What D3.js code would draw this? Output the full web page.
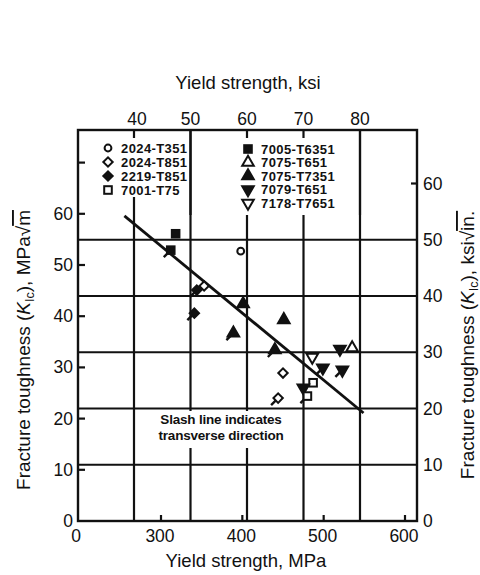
<!DOCTYPE html>
<html lang="en">
<head>
<meta charset="UTF-8"/>
<title>Fracture toughness vs yield strength</title>
<script src="https://d3js.org/d3.v7.min.js"></script>
<style>
  body { margin: 0; background: #fff; }
  svg text { font-family: "Liberation Sans", Arial, Helvetica, sans-serif; fill: #111; }
  .tick { font-size: 17.5px; }
  .title { font-size: 18.5px; }
  .ktitle { font-size: 19px; }
  .legend { font-size: 13px; font-weight: bold; letter-spacing: 0.4px; }
  .note { font-size: 13.5px; font-weight: bold; letter-spacing: -0.2px; }
</style>
</head>
<body>
<script>
// alloys and their symbols (legend order)
var alloys  = ["2024-T351", "2024-T851", "2219-T851", "7001-T75",
               "7005-T6351", "7075-T651", "7075-T7351", "7079-T651", "7178-T7651"];
var shapes  = ["circle", "diamond", "diamond", "square",
               "square", "triangle", "triangle", "tridown", "tridown"];
var filled  = [false, false, true, false, true, false, true, true, false];

// measured points: alloy, yield strength (MPa), K_Ic (MPa sqrt m), transverse?
var ptAlloy = ["7005-T6351", "7005-T6351", "2024-T351", "2024-T851", "2219-T851",
               "2219-T851", "7075-T7351", "7075-T7351", "7075-T7351", "7075-T7351",
               "7178-T7651", "7079-T651", "7075-T651", "7079-T651", "7079-T651",
               "2024-T851", "7001-T75", "7079-T651", "7001-T75", "2024-T851"];
var ptYield = [318, 312, 398, 353, 344, 341, 401, 389, 451, 440,
               486, 520, 535, 499, 523, 450, 487, 475, 480, 444];
var ptK     = [56.1, 52.9, 52.7, 45.9, 45.1, 40.6, 42.4, 36.7, 39.3, 33.4,
               32.0, 33.6, 33.8, 29.9, 29.5, 28.9, 27.0, 26.0, 24.4, 24.0];
var ptTrans = [false, true, false, false, true, true, false, true, false, true,
               false, false, false, true, true, false, false, false, true, true];

// trend line end points
var lineYield = [255, 549];
var lineK = [59.6, 21.1];

// tick labels
var mpaTicks = [300, 400, 500, 600];
var ksiTicks = [40, 50, 60, 70, 80];
var kMpaTicks = [10, 20, 30, 40, 50, 60, 70];
var kMpaLabels = [0, 10, 20, 30, 40, 50, 60];
var kKsiGrid = [10, 20, 30, 40, 50];
var kKsiLabels = [0, 10, 20, 30, 40, 50, 60];

var w = 480, h = 575;
var L = 78, R = 417, T = 130, B = 521;

var x = d3.scaleLinear().domain([300, 600]).range([161, 405]);
var xKsi = d3.scaleLinear().domain([40, 80]).range([134, 360]);
var y = d3.scaleLinear().domain([0, 70]).range([B, B - 70 * 5.12]);
var yKsi = d3.scaleLinear().domain([0, 50]).range([B, B - 50 * 5.625]);

var svg = d3.select("body").append("svg")
    .attr("width", w).attr("height", h);

var ink = "#111";

// grid
svg.selectAll(".hgrid").data(kKsiGrid).enter().append("line")
    .attr("x1", L).attr("x2", R)
    .attr("y1", function(d){ return yKsi(d); })
    .attr("y2", function(d){ return yKsi(d); })
    .attr("stroke", ink).attr("stroke-width", 2.2);

svg.selectAll(".vgrid").data(ksiTicks).enter().append("line")
    .attr("x1", function(d){ return xKsi(d); })
    .attr("x2", function(d){ return xKsi(d); })
    .attr("y1", T).attr("y2", B)
    .attr("stroke", ink).attr("stroke-width", 2.2);

// white boxes behind legend and note
svg.append("rect").attr("x", 100).attr("y", 138).attr("width", 88).attr("height", 59).attr("fill", "#fff");
svg.append("rect").attr("x", 198).attr("y", 138).attr("width", 158).attr("height", 77).attr("fill", "#fff");
svg.append("rect").attr("x", 150).attr("y", 411).attr("width", 142).attr("height", 37).attr("fill", "#fff");
// gridlines at 50 and 80 ksi run through the legend
svg.append("line").attr("x1", xKsi(50)).attr("x2", xKsi(50)).attr("y1", T).attr("y2", 215)
    .attr("stroke", ink).attr("stroke-width", 2.2);
svg.append("line").attr("x1", xKsi(80)).attr("x2", xKsi(80)).attr("y1", T).attr("y2", 215)
    .attr("stroke", ink).attr("stroke-width", 2.2);

// frame
svg.append("rect").attr("x", L).attr("y", T).attr("width", R - L).attr("height", B - T)
    .attr("fill", "none").attr("stroke", ink).attr("stroke-width", 2.4);

// ticks
svg.selectAll(".lt").data(kMpaTicks).enter().append("line")
    .attr("x1", L).attr("x2", L + 7)
    .attr("y1", function(d){ return y(d); }).attr("y2", function(d){ return y(d); })
    .attr("stroke", ink).attr("stroke-width", 2.2);
svg.selectAll(".bt").data(mpaTicks).enter().append("line")
    .attr("x1", function(d){ return x(d); }).attr("x2", function(d){ return x(d); })
    .attr("y1", B).attr("y2", B - 6)
    .attr("stroke", ink).attr("stroke-width", 2.2);
svg.append("line").attr("x1", R - 6).attr("x2", R)
    .attr("y1", yKsi(60)).attr("y2", yKsi(60))
    .attr("stroke", ink).attr("stroke-width", 2.2);

// tick labels
svg.selectAll(".ll").data(kMpaLabels).enter().append("text").attr("class", "tick")
    .attr("x", 73).attr("y", function(d){ return y(d) + 6; })
    .attr("text-anchor", "end").text(function(d){ return d; });
svg.selectAll(".rl").data(kKsiLabels).enter().append("text").attr("class", "tick")
    .attr("x", 423).attr("y", function(d){ return yKsi(d) + 6; })
    .text(function(d){ return d; });
svg.selectAll(".tl").data(ksiTicks).enter().append("text").attr("class", "tick")
    .attr("x", function(d){ return xKsi(d) + (d === 40 ? 3 : 0); }).attr("y", 125)
    .attr("text-anchor", "middle").text(function(d){ return d; });
svg.selectAll(".bl").data(mpaTicks).enter().append("text").attr("class", "tick")
    .attr("x", function(d){ return x(d) - 1; }).attr("y", 542)
    .attr("text-anchor", "middle").text(function(d){ return d; });
svg.append("text").attr("class", "tick").attr("x", 76).attr("y", 542)
    .attr("text-anchor", "middle").text("0");

// axis titles
svg.append("text").attr("class", "title").attr("x", 248).attr("y", 89)
    .attr("text-anchor", "middle").text("Yield strength, ksi");
svg.append("text").attr("class", "title").attr("x", 246).attr("y", 567)
    .attr("text-anchor", "middle").text("Yield strength, MPa");

function kTitle(cx, cy, unit, under) {
    var t = svg.append("text").attr("class", "ktitle")
        .attr("transform", "translate(" + cx + "," + cy + ") rotate(-90)")
        .attr("text-anchor", "middle");
    t.append("tspan").text("Fracture toughness (");
    t.append("tspan").attr("font-style", "italic").text("K");
    t.append("tspan").attr("font-size", "12.5px").attr("dy", 4).text("Ic");
    t.append("tspan").attr("dy", -4).text("), " + unit + "\u221A");
    t.append("tspan").attr("text-decoration", "overline").text(under);
}
kTitle(30, 350, "MPa", "m");
kTitle(474, 345, "ksi", "in.");

// note
svg.append("text").attr("class", "note").attr("x", 221).attr("y", 424)
    .attr("text-anchor", "middle").text("Slash line indicates");
svg.append("text").attr("class", "note").attr("x", 221).attr("y", 440)
    .attr("text-anchor", "middle").text("transverse direction");

// marker helper
function marker(g, shape, fill) {
    if (shape === "circle") {
        g.append("circle").attr("r", 3.4);
    } else if (shape === "square") {
        g.append("rect").attr("x", -3.8).attr("y", -3.8).attr("width", 7.6).attr("height", 7.6);
    } else if (shape === "diamond") {
        g.append("path").attr("d", d3.symbol().type(d3.symbolSquare).size(44)())
            .attr("transform", "rotate(45)");
    } else if (shape === "triangle") {
        g.append("path").attr("d", d3.symbol().type(d3.symbolTriangle).size(58)());
    } else {
        g.append("path").attr("d", d3.symbol().type(d3.symbolTriangle).size(58)())
            .attr("transform", "rotate(180)");
    }
    g.selectAll("*").attr("fill", fill ? ink : "#fff")
        .attr("stroke", ink).attr("stroke-width", 2);
}

// legend
alloys.forEach(function(a, i) {
    var col = i < 4 ? 0 : 1;
    var row = i < 4 ? i : i - 4;
    var mx = col === 0 ? 108 : 248;
    var my = col === 0 ? 148 + row * 14 : 149 + row * 13.5;
    var g = svg.append("g").attr("transform", "translate(" + mx + "," + my + ")");
    marker(g, shapes[i], filled[i]);
    svg.append("text").attr("class", "legend").attr("x", mx + 13).attr("y", my + 4.5).text(a);
});

// trend line
svg.append("line")
    .attr("x1", x(lineYield[0])).attr("y1", y(lineK[0]))
    .attr("x2", x(lineYield[1])).attr("y2", y(lineK[1]))
    .attr("stroke", ink).attr("stroke-width", 2.8);

// data points
ptAlloy.forEach(function(a, i) {
    var k = alloys.indexOf(a);
    var g = svg.append("g")
        .attr("transform", "translate(" + x(ptYield[i]) + "," + y(ptK[i]) + ")");
    if (ptTrans[i]) {
        g.append("line").attr("x1", -7).attr("y1", 7).attr("x2", 2).attr("y2", -2)
            .attr("stroke", ink).attr("stroke-width", 2.4);
    }
    var m = g.append("g");
    marker(m, shapes[k], filled[k]);
});
</script>
</body>
</html>
